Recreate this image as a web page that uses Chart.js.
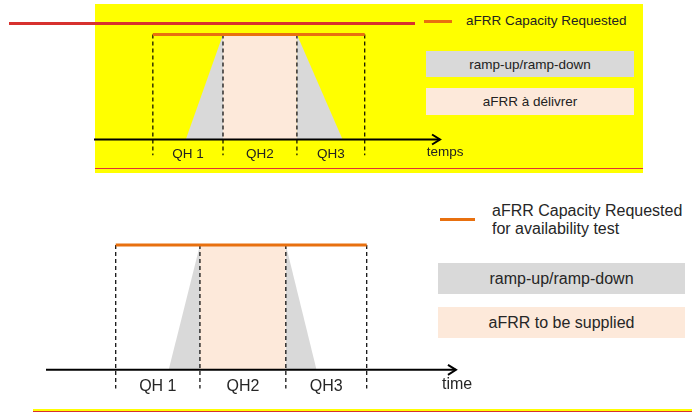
<!DOCTYPE html>
<html>
<head>
<meta charset="utf-8">
<script src="https://cdn.jsdelivr.net/npm/chart.js@4.4.1/dist/chart.umd.min.js"></script>
<style>
  html, body { margin: 0; padding: 0; background: #fff; }
  body { width: 692px; height: 412px; position: relative; overflow: hidden;
         font-family: "Liberation Sans", Arial, sans-serif; color: #222; }
  .abs { position: absolute; }
  .box { position: absolute; display: flex; align-items: center; justify-content: center; }
  canvas { position: absolute; }
</style>
</head>
<body>
<!-- top (French) panel background -->
<div class="abs" style="left:95px;top:4px;width:548px;height:169px;background:#ffff00"></div>
<div class="abs" style="left:95px;top:168px;width:548px;height:1px;background:#e0303a"></div>
<div class="abs" style="left:9px;top:22px;width:406px;height:3px;background:#d7312e"></div>

<!-- top legend -->
<div class="abs" style="left:424px;top:20px;width:28px;height:3px;background:#e8700f"></div>
<div class="abs" style="left:466px;top:13px;line-height:16px;font-size:13.5px">aFRR Capacity Requested</div>
<div class="box" style="left:426px;top:51px;width:208px;height:26px;background:#d9d9d9;font-size:13.5px">ramp-up/ramp-down</div>
<div class="box" style="left:426px;top:88px;width:208px;height:27px;background:#fde9da;font-size:13.5px">aFRR à délivrer</div>

<!-- bottom legend -->
<div class="abs" style="left:440px;top:218px;width:35px;height:3px;background:#e8700f"></div>
<div class="abs" style="left:492px;top:202px;line-height:18px;font-size:16px;color:#262626">aFRR Capacity Requested<br>for availability test</div>
<div class="box" style="left:438px;top:263px;width:247px;height:31px;background:#d9d9d9;font-size:16px;color:#262626">ramp-up/ramp-down</div>
<div class="box" style="left:438px;top:307px;width:247px;height:31px;background:#fde9da;font-size:16px;color:#262626">aFRR to be supplied</div>

<!-- bottom stripe -->
<div class="abs" style="left:33px;top:409px;width:659px;height:2px;background:#ffff00"></div>
<div class="abs" style="left:33px;top:411px;width:659px;height:1px;background:#d7312e"></div>

<canvas id="frChart" width="379" height="152" style="left:94px;top:19px"></canvas>
<canvas id="enChart" width="449" height="175" style="left:46px;top:226px"></canvas>

<script>
// ---------- Data (time in minutes, capacity as share of requested) ----------
const qhLabels = ["QH 1", "QH2", "QH3"];
const axisRange = [-12.5, 61];

// top panel (French)
const frBounds = [0, 14.9, 30.6, 45];
const frRamp = [7.0, 14.9, 30.6, 40.3]; // start up, full, start down, zero
// bottom panel (English)
const enBounds = [0, 15.1, 30.5, 45];
const enRamp = [9.5, 15.1, 30.5, 36.0];

const capacityLevel = 1;
const dashBottom = -0.15;

const ORANGE = "#e8700f";
const GRAY = "#d9d9d9";
const PINK = "#fde9da";
const FONT = '"Liberation Sans", Arial, sans-serif';

// ---------- Plugin: arrow head + QH / axis labels ----------
const diagramText = {
  id: "diagramText",
  afterDatasetsDraw(chart) {
    const o = chart.config.options.diagram;
    const { ctx, scales: { x, y } } = chart;
    const y0 = y.getPixelForValue(0);
    const xe = x.getPixelForValue(axisRange[1]);
    ctx.save();
    ctx.strokeStyle = "#000";
    ctx.lineWidth = 2;
    ctx.beginPath();
    ctx.moveTo(xe - 8, y0 - 5);
    ctx.lineTo(xe, y0);
    ctx.lineTo(xe - 8, y0 + 5);
    ctx.stroke();

    ctx.fillStyle = o.color;
    ctx.font = `${o.size}px ${FONT}`;
    ctx.textAlign = "center";
    ctx.textBaseline = "middle";
    o.bounds.slice(1).forEach((b, i) => {
      const mid = (o.bounds[i] + b) / 2;
      ctx.fillText(qhLabels[i], x.getPixelForValue(mid), y0 + o.offset);
    });
    ctx.fillText(o.axisTitle, x.getPixelForValue(axisRange[1] + o.titleShift), y0 + o.offset - 2);
    ctx.restore();
  },
};

// ---------- Build one diagram ----------
function renderDiagram(canvasId, bounds, ramp, cfg) {
  const canvas = document.getElementById(canvasId);
  const dashes = bounds.flatMap((b) => [
    { x: b, y: capacityLevel },
    { x: b, y: dashBottom },
    { x: b, y: null },
  ]);
  const flat = { pointRadius: 0, borderWidth: 0, tension: 0 };

  new Chart(canvas, {
    type: "line",
    data: {
      datasets: [
        {
          label: "aFRR Capacity Requested",
          data: [{ x: bounds[0], y: capacityLevel }, { x: bounds[3], y: capacityLevel }],
          borderColor: ORANGE,
          borderWidth: 3,
          pointRadius: 0,
          fill: false,
        },
        {
          label: "axis",
          data: [{ x: axisRange[0], y: 0 }, { x: axisRange[1], y: 0 }],
          borderColor: "#000",
          borderWidth: 2,
          pointRadius: 0,
          fill: false,
        },
        {
          label: "QH",
          data: dashes,
          borderColor: "#000",
          borderWidth: 1.2,
          borderDash: [4, 3],
          pointRadius: 0,
          spanGaps: false,
          fill: false,
        },
        {
          label: "ramp-up",
          data: [{ x: ramp[0], y: 0 }, { x: ramp[1], y: capacityLevel }],
          backgroundColor: GRAY,
          fill: "origin",
          ...flat,
        },
        {
          label: "aFRR",
          data: [{ x: ramp[1], y: capacityLevel }, { x: ramp[2], y: capacityLevel }],
          backgroundColor: PINK,
          fill: "origin",
          ...flat,
        },
        {
          label: "ramp-down",
          data: [{ x: ramp[2], y: capacityLevel }, { x: ramp[3], y: 0 }],
          backgroundColor: GRAY,
          fill: "origin",
          ...flat,
        },
      ],
    },
    options: {
      responsive: false,
      animation: false,
      events: [],
      layout: { padding: 0 },
      plugins: { legend: { display: false }, tooltip: { enabled: false } },
      scales: {
        x: { type: "linear", min: -12.5, max: 68, display: false },
        y: { type: "linear", min: cfg.minY, max: cfg.maxY, display: false },
      },
      diagram: cfg,
    },
    plugins: [diagramText],
  });
}

renderDiagram("frChart", frBounds, frRamp, {
  minY: -0.3, maxY: 1.148, bounds: frBounds, size: 13.5, offset: 15,
  axisTitle: "temps", titleShift: 1.1, color: "#222",
});
renderDiagram("enChart", enBounds, enRamp, {
  minY: -0.25, maxY: 1.152, bounds: enBounds, size: 16, offset: 17,
  axisTitle: "time", titleShift: 0.2, color: "#262626",
});
</script>
</body>
</html>
